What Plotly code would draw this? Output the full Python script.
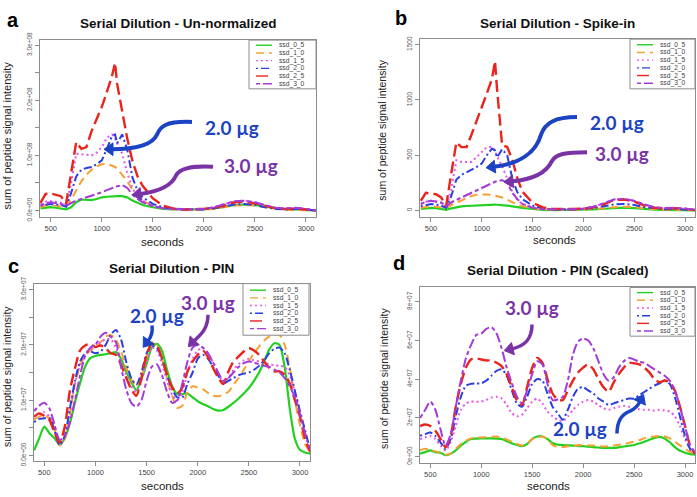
import math
import plotly.graph_objects as go

W, H = 697, 497

# ---------------- data ----------------
series_names = ["ssd_0_5", "ssd_1_0", "ssd_1_5", "ssd_2_0", "ssd_2_5", "ssd_3_0"]

seconds_ab = [400, 450, 500, 550, 600, 650, 700, 750, 800, 850, 900, 950, 1000, 1050, 1100, 1130,
              1150, 1200, 1250, 1300, 1350, 1400, 1500, 1600, 1700, 1800, 1900, 2000, 2100, 2200,
              2300, 2400, 2500, 2600, 2700, 2800, 2900, 3000, 3100]

# Panel a (units of 1e8)
a_ssd_0_5 = [0.04, 0.05, 0.06, 0.05, 0.04, 0.02, 0.06, 0.15, 0.20, 0.20, 0.19, 0.21, 0.24, 0.25, 0.26, 0.26,
             0.26, 0.26, 0.24, 0.18, 0.14, 0.10, 0.06, 0.03, 0.02, 0.02, 0.02, 0.02, 0.04, 0.07,
             0.10, 0.11, 0.10, 0.07, 0.04, 0.02, 0.02, 0.01, 0.0]
a_ssd_1_0 = [0.06, 0.09, 0.10, 0.09, 0.08, 0.06, 0.20, 0.38, 0.53, 0.65, 0.74, 0.80, 0.84, 0.85, 0.82, 0.79,
             0.76, 0.64, 0.53, 0.38, 0.26, 0.18, 0.08, 0.04, 0.02, 0.01, 0.01, 0.02, 0.03, 0.06,
             0.09, 0.10, 0.09, 0.06, 0.03, 0.01, 0.01, 0.01, 0.0]
a_ssd_1_5 = [0.12, 0.16, 0.17, 0.16, 0.14, 0.09, 0.50, 1.03, 1.02, 1.00, 1.00, 1.05, 1.15, 1.32, 1.38, 1.32,
             1.22, 1.03, 0.68, 0.40, 0.26, 0.18, 0.09, 0.04, 0.02, 0.02, 0.02, 0.03, 0.06, 0.11,
             0.17, 0.18, 0.15, 0.09, 0.05, 0.03, 0.04, 0.02, 0.0]
a_ssd_2_0 = [0.09, 0.11, 0.12, 0.11, 0.10, 0.07, 0.32, 0.62, 0.74, 0.77, 0.79, 0.84, 0.91, 1.12, 1.35, 1.38,
             1.22, 1.38, 1.10, 0.60, 0.36, 0.24, 0.12, 0.06, 0.03, 0.02, 0.02, 0.02, 0.04, 0.07,
             0.11, 0.12, 0.10, 0.06, 0.03, 0.02, 0.03, 0.02, 0.0]
a_ssd_2_5 = [0.14, 0.30, 0.31, 0.29, 0.26, 0.12, 0.68, 1.24, 1.12, 1.15, 1.44, 1.66, 1.88, 2.15, 2.44, 2.68,
             2.30, 1.80, 1.30, 0.90, 0.62, 0.45, 0.22, 0.09, 0.04, 0.02, 0.02, 0.03, 0.05, 0.09,
             0.15, 0.16, 0.13, 0.08, 0.04, 0.03, 0.04, 0.02, 0.0]
a_ssd_3_0 = [0.09, 0.13, 0.15, 0.14, 0.12, 0.09, 0.14, 0.18, 0.21, 0.24, 0.26, 0.30, 0.33, 0.37, 0.41, 0.43,
             0.44, 0.46, 0.41, 0.29, 0.21, 0.15, 0.08, 0.04, 0.03, 0.03, 0.03, 0.03, 0.06, 0.11,
             0.17, 0.18, 0.15, 0.10, 0.05, 0.04, 0.05, 0.03, 0.0]

# Panel b (raw units)
b_ssd_0_5 = [15, 20, 24, 21, 15, 6, 20, 32, 38, 41, 44, 47, 50, 52, 53, 53,
             52, 50, 45, 38, 30, 24, 15, 6, 4, 4, 5, 6, 10, 16,
             24, 26, 22, 14, 8, 6, 6, 4, 2]
b_ssd_1_0 = [24, 34, 38, 35, 29, 20, 50, 70, 88, 110, 132, 142, 147, 146, 141, 136,
             132, 118, 98, 74, 55, 38, 20, 12, 8, 6, 6, 8, 12, 20,
             30, 35, 30, 20, 12, 8, 8, 6, 3]
b_ssd_1_5 = [59, 80, 88, 82, 68, 29, 190, 455, 440, 440, 440, 485, 530, 573, 575, 545,
             490, 400, 290, 170, 100, 60, 29, 15, 10, 10, 12, 18, 35, 65,
             100, 105, 85, 50, 28, 20, 24, 16, 5]
b_ssd_2_0 = [38, 52, 59, 55, 44, 24, 132, 280, 323, 345, 368, 395, 426, 500, 560, 544,
             480, 555, 500, 290, 165, 103, 44, 20, 10, 8, 10, 14, 22, 38,
             55, 60, 50, 30, 18, 12, 14, 10, 4]
b_ssd_2_5 = [88, 160, 153, 147, 118, 44, 338, 617, 573, 573, 690, 810, 926, 1060, 1190, 1350,
             1100, 590, 575, 460, 290, 170, 70, 28, 14, 12, 14, 18, 30, 55,
             95, 100, 80, 45, 25, 18, 22, 15, 5]
b_ssd_3_0 = [59, 80, 88, 82, 74, 38, 74, 96, 118, 140, 160, 183, 206, 228, 250, 260,
             265, 275, 250, 160, 103, 59, 24, 12, 10, 10, 12, 18, 35, 65,
             100, 105, 88, 55, 30, 22, 25, 18, 6]

seconds_cd = [400, 450, 500, 550, 600, 650, 700, 750, 800, 850, 900, 950, 1000, 1050, 1100, 1150,
              1200, 1250, 1300, 1350, 1400, 1450, 1500, 1550, 1600, 1650, 1700, 1750, 1800, 1850,
              1900, 1950, 2000, 2050, 2100, 2150, 2200, 2250, 2300, 2350, 2400, 2450, 2500, 2550,
              2600, 2650, 2700, 2750, 2800, 2850, 2900, 2950, 3000, 3050, 3100]

# Panel c (units of 1e7)
c_ssd_0_5 = [0.09, 0.31, 0.52, 0.40, 0.31, 0.19, 0.31, 0.58, 0.96, 1.31, 1.61, 1.76, 1.80, 1.82, 1.83, 1.85,
             1.87, 1.75, 1.52, 1.33, 1.18, 1.38, 1.65, 1.95, 2.02, 1.90, 1.55, 1.25, 1.11, 1.11,
             1.12, 1.05, 0.98, 0.93, 0.89, 0.84, 0.81, 0.82, 0.88, 0.95, 1.03, 1.12, 1.22, 1.35,
             1.50, 1.70, 1.92, 2.03, 2.00, 1.60, 0.85, 0.30, 0.10, 0.05, 0.03]
c_ssd_1_0 = [0.65, 0.70, 0.72, 0.66, 0.45, 0.18, 0.30, 0.75, 1.30, 1.62, 1.80, 1.90, 1.95, 2.05, 2.15, 2.18,
             2.10, 1.88, 1.60, 1.38, 1.25, 1.42, 1.80, 2.05, 2.00, 1.75, 1.40, 1.08, 0.86, 0.90,
             1.15, 1.25, 1.23, 1.20, 1.13, 1.08, 1.07, 1.10, 1.15, 1.28, 1.40, 1.55, 1.70, 1.85,
             1.97, 2.08, 2.15, 2.18, 2.18, 2.00, 1.60, 1.00, 0.55, 0.20, 0.06]
c_ssd_1_5 = [0.70, 0.75, 0.78, 0.70, 0.50, 0.20, 0.35, 0.80, 1.30, 1.65, 1.85, 1.92, 1.95, 2.05, 2.10, 2.10,
             1.95, 1.70, 1.45, 1.25, 1.15, 1.35, 1.70, 1.95, 1.90, 1.65, 1.35, 1.10, 1.00, 1.15,
             1.50, 1.75, 1.90, 1.95, 1.85, 1.68, 1.50, 1.32, 1.40, 1.55, 1.65, 1.72, 1.75, 1.72,
             1.70, 1.67, 1.65, 1.63, 1.62, 1.60, 1.45, 1.15, 0.80, 0.40, 0.10]
c_ssd_2_0 = [0.60, 0.66, 0.67, 0.68, 0.45, 0.18, 0.35, 0.85, 1.35, 1.70, 1.85, 1.88, 1.85, 1.88, 2.00, 2.18,
             2.27, 2.10, 1.70, 1.40, 1.28, 1.50, 1.85, 1.98, 1.95, 1.75, 1.45, 1.20, 1.05, 1.05,
             1.30, 1.50, 1.75, 1.82, 1.75, 1.60, 1.45, 1.30, 1.35, 1.40, 1.45, 1.48, 1.50, 1.55,
             1.62, 1.72, 1.85, 1.93, 1.95, 1.85, 1.55, 1.17, 0.80, 0.45, 0.10]
c_ssd_2_5 = [0.70, 0.76, 0.71, 0.64, 0.41, 0.23, 0.52, 1.17, 1.58, 1.90, 1.99, 2.02, 1.96, 1.99, 1.94, 1.85,
             1.82, 1.64, 1.41, 1.20, 1.08, 1.41, 1.82, 2.02, 1.99, 1.76, 1.46, 1.23, 1.12, 1.23,
             1.52, 1.70, 1.82, 1.90, 1.78, 1.58, 1.41, 1.29, 1.52, 1.70, 1.79, 1.88, 1.94, 1.90,
             1.82, 1.70, 1.58, 1.52, 1.52, 1.46, 1.30, 1.00, 0.70, 0.30, 0.06]
c_ssd_3_0 = [0.80, 0.90, 0.95, 0.85, 0.55, 0.28, 0.35, 0.60, 1.00, 1.45, 1.80, 1.95, 2.00, 2.15, 2.22, 2.15,
             2.05, 1.60, 1.20, 0.95, 0.88, 1.00, 1.35, 1.60, 1.65, 1.45, 1.15, 0.95, 1.00, 1.30,
             1.70, 1.95, 2.00, 1.95, 1.85, 1.68, 1.50, 1.35, 1.40, 1.50, 1.60, 1.67, 1.70, 1.68,
             1.65, 1.62, 1.60, 1.55, 1.50, 1.40, 1.25, 1.05, 0.75, 0.40, 0.10]

# Panel d (units of 1e7)
d_ssd_0_5 = [0.15, 0.23, 0.32, 0.23, 0.20, 0.07, 0.15, 0.32, 0.57, 0.77, 0.91, 0.93, 0.94, 0.94, 0.94, 0.93,
             0.91, 0.80, 0.69, 0.60, 0.54, 0.65, 0.91, 1.04, 1.04, 0.91, 0.70, 0.62, 0.60, 0.58,
             0.57, 0.55, 0.54, 0.51, 0.49, 0.47, 0.45, 0.45, 0.45, 0.48, 0.52, 0.56, 0.60, 0.68,
             0.77, 0.87, 0.97, 1.02, 0.94, 0.74, 0.49, 0.30, 0.20, 0.13, 0.10]
d_ssd_1_0 = [0.32, 0.40, 0.32, 0.27, 0.20, 0.10, 0.15, 0.40, 0.65, 0.82, 0.94, 0.97, 0.99, 1.00, 1.02, 1.04,
             0.99, 0.88, 0.77, 0.66, 0.57, 0.65, 0.91, 0.99, 1.04, 0.91, 0.60, 0.49, 0.49, 0.53,
             0.57, 0.59, 0.60, 0.59, 0.57, 0.54, 0.52, 0.54, 0.57, 0.61, 0.65, 0.71, 0.77, 0.85,
             0.94, 1.00, 1.04, 1.07, 1.04, 0.94, 0.77, 0.58, 0.40, 0.25, 0.15]
d_ssd_1_5 = [0.91, 0.99, 1.07, 0.91, 0.57, 0.32, 0.74, 1.58, 2.42, 2.75, 2.84, 2.84, 2.84, 2.92, 3.05, 3.09,
             3.00, 2.67, 2.25, 2.08, 2.16, 2.50, 2.84, 3.00, 2.75, 2.33, 2.08, 1.91, 1.83, 2.08,
             2.42, 2.67, 2.84, 2.92, 2.84, 2.67, 2.50, 2.42, 2.50, 2.58, 2.62, 2.58, 2.50, 2.45,
             2.42, 2.42, 2.38, 2.42, 2.38, 2.33, 2.08, 1.58, 0.91, 0.40, 0.15]
d_ssd_2_0 = [1.07, 1.16, 1.24, 1.07, 0.74, 0.40, 0.91, 2.08, 3.09, 3.67, 3.76, 3.78, 3.79, 3.93, 4.18, 4.43,
             4.51, 4.18, 3.42, 2.75, 2.58, 3.09, 3.76, 4.01, 3.93, 3.26, 2.58, 2.25, 1.91, 2.42,
             3.09, 3.51, 3.59, 3.42, 3.26, 3.00, 2.84, 2.67, 2.75, 2.84, 2.92, 3.00, 3.00, 3.17,
             3.34, 3.51, 3.67, 3.79, 3.93, 3.76, 3.09, 2.08, 1.07, 0.40, 0.15]
d_ssd_2_5 = [1.58, 1.66, 1.58, 1.33, 0.91, 0.49, 1.07, 2.58, 3.76, 4.60, 5.02, 5.07, 5.02, 4.97, 4.97, 4.85,
             4.68, 4.26, 3.59, 2.92, 2.67, 3.59, 4.60, 5.10, 4.85, 4.01, 3.26, 2.95, 2.92, 3.42,
             3.93, 4.35, 4.60, 4.77, 4.51, 4.01, 3.59, 3.34, 3.84, 4.26, 4.60, 4.85, 4.82, 4.77,
             4.60, 4.35, 4.01, 3.84, 3.93, 3.84, 3.42, 2.58, 1.58, 0.57, 0.15]
d_ssd_3_0 = [2.00, 2.42, 2.84, 2.42, 1.41, 0.57, 1.16, 2.58, 3.93, 5.10, 5.77, 6.28, 6.36, 6.60, 6.69, 6.36,
             5.60, 4.60, 3.80, 3.10, 2.75, 3.42, 4.26, 4.93, 4.77, 3.76, 2.92, 2.95, 3.09, 3.93,
             5.27, 5.94, 6.10, 6.00, 5.60, 4.93, 4.26, 3.93, 4.09, 4.60, 4.93, 5.10, 5.02, 4.90,
             4.85, 4.68, 4.51, 4.35, 4.18, 3.93, 3.42, 2.58, 1.58, 0.57, 0.23]

x_tick_vals = [500, 1000, 1500, 2000, 2500, 3000]
a_tick_vals = [0, 0.5e8, 1.0e8, 1.5e8, 2.0e8, 2.5e8, 3.0e8]
a_tick_text = ["0.0e+00", "", "1.0e+08", "", "2.0e+08", "", "3.0e+08"]
b_tick_vals = [0, 500, 1000, 1500]
b_tick_text = ["0", "500", "1000", "1500"]
c_tick_vals = [0, 0.5e7, 1.0e7, 1.5e7, 2.0e7, 2.5e7, 3.0e7]
c_tick_text = ["0.0e+00", "", "1.0e+07", "", "2.0e+07", "", "3.0e+07"]
d_tick_vals = [0, 2e7, 4e7, 6e7, 8e7]
d_tick_text = ["0e+00", "2e+07", "4e+07", "6e+07", "8e+07"]

titles = ["Serial Dilution - Un-normalized", "Serial Dilution - Spike-in",
          "Serial Dilution - PIN", "Serial Dilution - PIN (Scaled)"]
letters = ["a", "b", "c", "d"]

# ---------------- style ----------------
colors = ["#22d022", "#f5a030", "#e855e8", "#2a3fe0", "#e8241c", "#a43ad8"]
dashes = ["solid", "8px,5px", "2px,3px", "2px,3px,8px,3px", "12px,5px", "4px,3px,10px,3px"]
widths = [2.2, 2.0, 2.0, 2.0, 2.4, 2.0]
BLUE = "#1c43c4"
PURPLE = "#7a33a6"
AXC = "#8c8c8c"

def fx(px):
    return px / W

def fy(py):
    return 1 - py / H

# panel boxes in pixel coords: (left, right, top, bottom)
boxes = [(40, 316, 33, 215), (420, 695, 32, 215), (34, 310, 283, 465), (420, 695, 286, 467)]
yranges = [[-0.124e8, 3.09e8], [-62, 1550], [-0.1e7, 3.11e7], [-0.32e7, 8.79e7]]
xranges = [[395, 3098], [392, 3098], [399, 3098], [399, 3098]]
ytick = [(a_tick_vals, a_tick_text), (b_tick_vals, b_tick_text),
         (c_tick_vals, c_tick_text), (d_tick_vals, d_tick_text)]

panels = [
    (seconds_ab, [a_ssd_0_5, a_ssd_1_0, a_ssd_1_5, a_ssd_2_0, a_ssd_2_5, a_ssd_3_0], 1e8, "linear"),
    (seconds_ab, [b_ssd_0_5, b_ssd_1_0, b_ssd_1_5, b_ssd_2_0, b_ssd_2_5, b_ssd_3_0], 1, "linear"),
    (seconds_cd, [c_ssd_0_5, c_ssd_1_0, c_ssd_1_5, c_ssd_2_0, c_ssd_2_5, c_ssd_3_0], 1e7, "spline"),
    (seconds_cd, [d_ssd_0_5, d_ssd_1_0, d_ssd_1_5, d_ssd_2_0, d_ssd_2_5, d_ssd_3_0], 1e7, "spline"),
]

fig = go.Figure()
layout = dict(width=W, height=H, margin=dict(l=0, r=0, t=0, b=0),
              paper_bgcolor="white", plot_bgcolor="white", showlegend=False,
              font=dict(family="Liberation Sans, Arial, sans-serif", color="#333"))

annotations = []
shapes = []

for i, (xs, ys_list, scale, shape) in enumerate(panels):
    k = "" if i == 0 else str(i + 1)
    for j, ys in enumerate(ys_list):
        line = dict(color=colors[j], width=widths[j], dash=dashes[j], shape=shape)
        if shape == "spline":
            line["smoothing"] = 0.7
        fig.add_trace(go.Scatter(x=xs, y=[v * scale for v in ys], mode="lines",
                                 name=series_names[j], line=line,
                                 xaxis="x" + k, yaxis="y" + k))
    l, r, t, b = boxes[i]
    layout["xaxis" + k] = dict(domain=[fx(l), fx(r)], range=xranges[i], anchor="y" + k,
                               tickvals=x_tick_vals, showline=True, mirror=True, linecolor=AXC,
                               linewidth=1, ticks="outside", ticklen=4, tickcolor=AXC,
                               showgrid=False, zeroline=False,
                               tickfont=dict(size=7.5, color="#444"))
    tv, tt = ytick[i]
    layout["yaxis" + k] = dict(domain=[fy(b), fy(t)], range=yranges[i], anchor="x" + k,
                               tickvals=tv, ticktext=tt, tickangle=-90, showline=True, mirror=True,
                               linecolor=AXC, linewidth=1, ticks="outside", ticklen=4,
                               tickcolor=AXC, showgrid=False, zeroline=False,
                               tickfont=dict(size=6.5, color="#555"))

# titles, letters, axis labels
title_pos = [(178, 16), (557, 16), (171, 268), (558, 270)]
letter_pos = [(13, 12), (401, 10), (13, 265), (399, 262)]
xlab_pos = [(162, 240), (554, 238), (162, 491), (548, 491)]
ylab_pos = [(7, 131), (382, 126), (7, 379), (384, 381)]
for i in range(4):
    annotations.append(dict(text="<b>%s</b>" % titles[i], x=fx(title_pos[i][0]), y=fy(title_pos[i][1]),
                            xref="paper", yref="paper", showarrow=False,
                            font=dict(size=13.5, color="#111", family="Liberation Sans, Arial"),
                            xanchor="center", yanchor="middle"))
    annotations.append(dict(text="<b>%s</b>" % letters[i], x=fx(letter_pos[i][0]), y=fy(letter_pos[i][1]),
                            xref="paper", yref="paper", showarrow=False,
                            font=dict(size=20, color="#000", family="Liberation Sans, Arial"),
                            xanchor="center", yanchor="middle"))
    annotations.append(dict(text="seconds", x=fx(xlab_pos[i][0]), y=fy(xlab_pos[i][1]),
                            xref="paper", yref="paper", showarrow=False,
                            font=dict(size=11.5, color="#222"), xanchor="center", yanchor="middle"))
    annotations.append(dict(text="sum of peptide signal intensity", x=fx(ylab_pos[i][0]),
                            y=fy(ylab_pos[i][1]), xref="paper", yref="paper", showarrow=False,
                            textangle=-90, font=dict(size=11 if i == 0 else 10.5, color="#222"),
                            xanchor="center", yanchor="middle"))

# legends (drawn manually to get R-like compact legend)
legend_boxes = [(249, 33, 67, 50), (630, 32, 65, 51), (243, 283, 66, 53), (630, 287, 65, 50)]
for (bl, bt, bw, bh) in legend_boxes:
    shapes.append(dict(type="rect", xref="paper", yref="paper", x0=fx(bl), x1=fx(bl + bw),
                       y0=fy(bt + bh), y1=fy(bt), line=dict(color=AXC, width=1),
                       fillcolor="white", layer="above"))
    step = 7.9
    top = bt + (bh - 5 * step) / 2
    for j in range(6):
        yy = top + j * step
        shapes.append(dict(type="line", xref="paper", yref="paper", x0=fx(bl + 7), x1=fx(bl + 23),
                           y0=fy(yy), y1=fy(yy), layer="above",
                           line=dict(color=colors[j], width=1.4, dash=dashes[j] if j != 0 else "solid")))
        annotations.append(dict(text=series_names[j], x=fx(bl + 29), y=fy(yy), xref="paper",
                                yref="paper", showarrow=False, xanchor="left", yanchor="middle",
                                borderpad=0, font=dict(size=6.7, color="#444")))

# curved callout arrows (pixel control points)
def arrow(points, color, width=4):
    pts = [(fx(px), fy(py)) for px, py in points]
    path = "M %f,%f" % pts[0]
    for n in range(1, len(pts), 3):
        path += " C %f,%f %f,%f %f,%f" % (pts[n] + pts[n + 1] + pts[n + 2])
    shapes.append(dict(type="path", xref="paper", yref="paper", path=path,
                       line=dict(color=color, width=width), layer="above"))
    (cx, cy), (ex, ey) = points[-2], points[-1]
    dx, dy = ex - cx, ey - cy
    d = math.hypot(dx, dy) or 1
    dx, dy = dx / d, dy / d
    nx, ny = -dy, dx
    tip = (ex + dx * 8, ey + dy * 8)
    b1 = (ex - dx * 1 + nx * 6.5, ey - dy * 1 + ny * 6.5)
    b2 = (ex - dx * 1 - nx * 6.5, ey - dy * 1 - ny * 6.5)
    tri = [(fx(p[0]), fy(p[1])) for p in (tip, b1, b2)]
    shapes.append(dict(type="path", xref="paper", yref="paper",
                       path="M %f,%f L %f,%f L %f,%f Z" % (tri[0] + tri[1] + tri[2]),
                       fillcolor=color, line=dict(color=color, width=1), layer="above"))

def label(text, px, py, color, size=19):
    annotations.append(dict(text="<b>%s</b>" % text, x=fx(px), y=fy(py), xref="paper", yref="paper",
                            showarrow=False, xanchor="center", yanchor="middle",
                            font=dict(size=size, color=color, family="Lato, Open Sans, sans-serif")))

# panel a
label("2.0 µg", 232, 123, BLUE)
arrow([(192, 117), (165, 116), (160, 122), (157, 130), (152, 141), (135, 145), (112, 145)], BLUE)
label("3.0 µg", 251, 162, PURPLE)
arrow([(213, 163), (192, 162), (180, 164), (176, 172), (171, 184), (155, 189), (140, 191)], PURPLE)
# panel b
label("2.0 µg", 617, 118, BLUE)
arrow([(577, 112), (555, 112), (545, 118), (541, 130), (536, 148), (520, 160), (494, 163)], BLUE)
label("3.0 µg", 622, 149, PURPLE)
arrow([(587, 148), (565, 148), (556, 150), (552, 157), (547, 168), (535, 176), (512, 178)], PURPLE)
# panel c
label("2.0 µg", 157, 316, BLUE)
arrow([(152, 326), (153, 333), (151, 338), (148, 342)], BLUE, 3.5)
label("3.0 µg", 208, 302, PURPLE)
arrow([(208, 315), (208, 330), (200, 336), (194, 342)], PURPLE, 3.5)
# panel d
label("3.0 µg", 532, 308, PURPLE)
arrow([(532, 325), (532, 340), (525, 347), (512, 350)], PURPLE, 3.5)
label("2.0 µg", 580, 432, BLUE)
arrow([(617, 437), (617, 423), (622, 417), (630, 414), (636, 411), (638, 408), (640, 404)], BLUE, 3.5)

layout["annotations"] = annotations
layout["shapes"] = shapes
fig.update_layout(**layout)
fig.write_html("out.html", config={"displayModeBar": False, "staticPlot": True},
               post_script="document.body.style.margin='0px';document.body.style.overflow='hidden';")
